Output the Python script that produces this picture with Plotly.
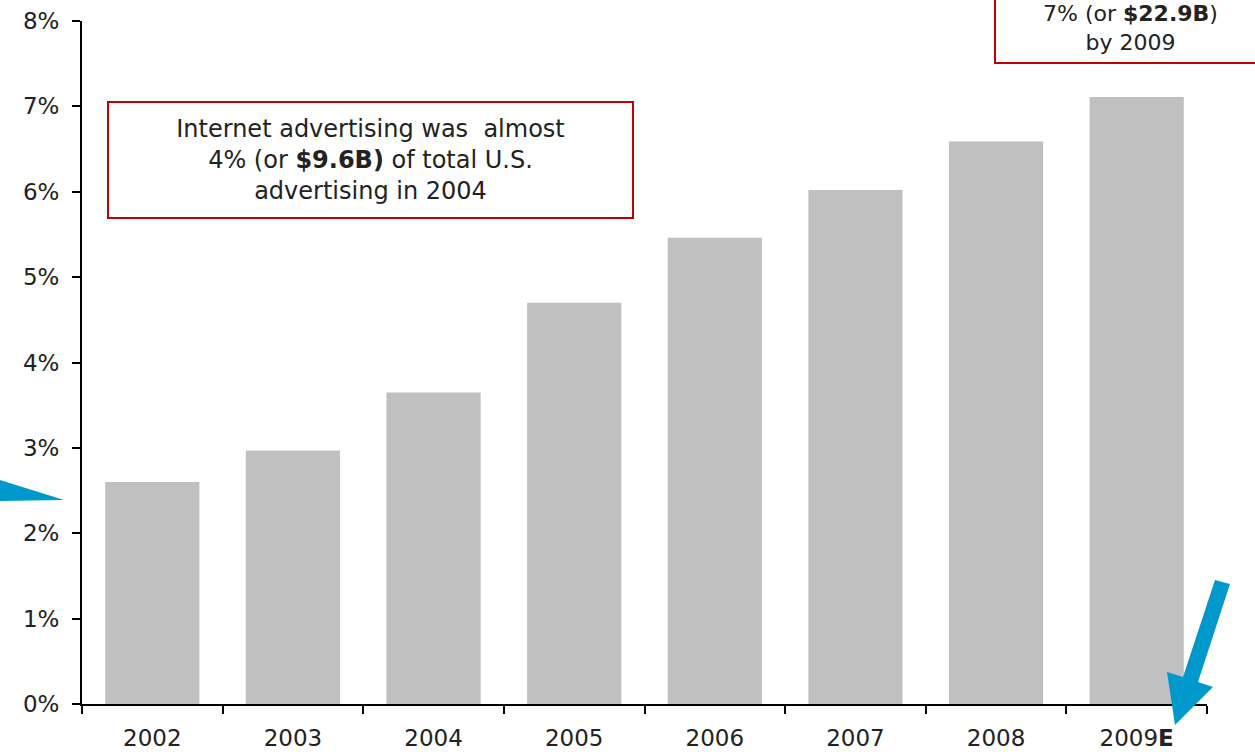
import plotly.graph_objects as go

years = ["2002", "2003", "2004", "2005", "2006", "2007", "2008", "2009E"]
year_labels = ["2002", "2003", "2004", "2005", "2006", "2007", "2008", "2009<b>E</b>"]
share_pct = [2.60, 2.97, 3.65, 4.70, 5.46, 6.02, 6.59, 7.11]
y_ticks = [0, 1, 2, 3, 4, 5, 6, 7, 8]

W, H = 1255, 752
L, R, T, B = 82, 48, 21, 48
PW, PH = W - L - R, H - T - B


def px(x, y):
    return (x - L) / PW, (H - B - y) / PH


def path(points):
    parts = []
    for i, (x, y) in enumerate(points):
        xp, yp = px(x, y)
        parts.append(("M" if i == 0 else "L") + f"{xp:.5f},{yp:.5f}")
    return " ".join(parts) + " Z"


FONT = "DejaVu Sans"
BLUE = "#0099cc"
RED = "#c00000"
TXT = "#222222"

fig = go.Figure(
    go.Bar(
        x=years,
        y=share_pct,
        marker=dict(color="#c0c0c0", line=dict(width=0)),
        width=0.67,
        hoverinfo="skip",
    )
)

fig.update_layout(
    width=W,
    height=H,
    margin=dict(l=L, r=R, t=T, b=B, autoexpand=False),
    paper_bgcolor="white",
    plot_bgcolor="white",
    showlegend=False,
    font=dict(family=FONT, size=22, color=TXT),
)

fig.update_xaxes(
    type="category",
    range=[-0.5, 7.5],
    tickmode="array",
    tickvals=years,
    ticktext=year_labels,
    tickson="boundaries",
    ticks="outside",
    ticklen=8,
    tickwidth=2,
    tickcolor="black",
    showline=True,
    linecolor="black",
    linewidth=2,
    showgrid=False,
    automargin=False,
    ticklabelstandoff=12,
    tickfont=dict(family=FONT, size=23, color=TXT),
)

fig.update_yaxes(
    range=[0, 8],
    tickmode="array",
    tickvals=y_ticks,
    ticktext=[f"{v}%" for v in y_ticks],
    ticks="outside",
    ticklen=8,
    tickwidth=2,
    tickcolor="black",
    showline=True,
    linecolor="black",
    linewidth=2,
    showgrid=False,
    zeroline=False,
    automargin=False,
    ticklabelstandoff=8,
    tickfont=dict(family=FONT, size=23, color=TXT),
)

cx1, cy1 = px(370.5, 160)
fig.add_annotation(
    xref="paper", yref="paper", x=cx1, y=cy1,
    xanchor="center", yanchor="middle",
    text="Internet advertising was  almost<br>4% (or <b>$9.6B)</b> of total U.S.<br>advertising in 2004",
    showarrow=False,
    align="center",
    font=dict(family=FONT, size=24, color=TXT),
    bordercolor=RED, borderwidth=2, borderpad=4,
    bgcolor="white",
    width=515, height=106,
)

# Top-right callout: box (partly beyond the page edge) + text
bx0, by0 = px(995, 63)
bx1, by1 = px(1275, -30)
fig.add_shape(type="rect", xref="paper", yref="paper", layer="above",
              x0=bx0, y0=by0, x1=bx1, y1=by1,
              line=dict(color=RED, width=2), fillcolor="white")
cx2, cy2 = px(1130, 28)
fig.add_annotation(
    xref="paper", yref="paper", x=cx2, y=cy2,
    xanchor="center", yanchor="middle",
    text="7% (or <b>$22.9B</b>)<br>by 2009",
    showarrow=False,
    align="center",
    font=dict(family=FONT, size=22, color=TXT),
)

# Blue arrows (decorations)
fig.add_shape(type="path", xref="paper", yref="paper", layer="above",
              path=path([(0, 480), (64, 500), (0, 501)]),
              fillcolor=BLUE, line=dict(width=0))
fig.add_shape(type="path", xref="paper", yref="paper", layer="above",
              path=path([(1215, 580), (1230, 584), (1198, 682), (1213, 687),
                         (1175, 725), (1167, 672), (1183, 677)]),
              fillcolor=BLUE, line=dict(width=0))

fig.write_html("out.html")
